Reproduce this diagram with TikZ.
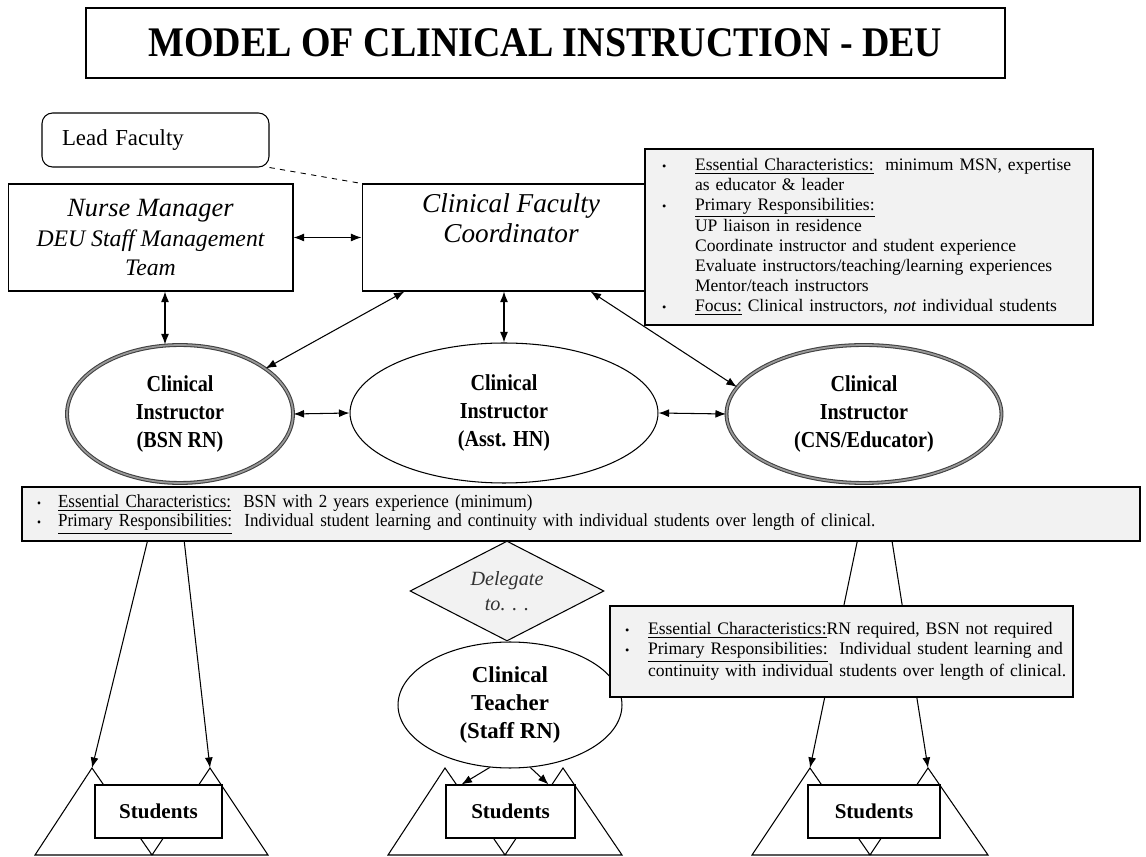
\documentclass[tikz,border=0pt]{standalone}
\usepackage{fontspec}
\setmainfont{Liberation Serif}
\newfontfamily\narrowserif{Liberation Serif}[FakeStretch=0.88]
\newfontfamily\bandserif{Liberation Serif}[FakeStretch=0.92]
\newfontfamily\titleserif{Liberation Serif}[FakeStretch=0.9]
\usetikzlibrary{arrows.meta,shapes.geometric}
\newcommand{\bul}{{\fontsize{7}{7}\selectfont\textbullet}}

\begin{document}
\begin{tikzpicture}[
  x=0.02cm, y=-0.02cm,
  >={Latex[length=6pt,width=4.5pt]},
  box/.style={draw, line width=0.6pt, align=center, inner sep=2pt},
  note/.style={draw, line width=0.9pt, fill=black!5, align=left, inner ysep=0pt, font=\fontsize{10}{11.4}\selectfont},
  ci/.style={ellipse, draw, line width=0.6pt, align=center, inner sep=0pt, font=\narrowserif\bfseries\fontsize{13}{16}\selectfont},
  ring/.style={ci, draw=black!75, line width=0.6pt, double=black!40, double distance=1pt},
  stud/.style={box, fill=white, minimum height=1.06cm, font=\bfseries\fontsize{12}{14}\selectfont},
  link/.style={<->, line width=0.6pt},
  down/.style={->, line width=0.6pt}
]
  \useasboundingbox (0,0) rectangle (1146,857);

  \node[draw, line width=0.9pt, minimum width=18.38cm, minimum height=1.4cm, font=\titleserif\bfseries\fontsize{24}{28}\selectfont] (title) at (545.5,43) {MODEL OF CLINICAL INSTRUCTION - DEU};

  \node[draw, rounded corners=6pt, line width=0.6pt, minimum height=1.08cm, text width=3.74cm, inner xsep=0.4cm, align=left, font=\fontsize{13}{15}\selectfont] (lead) at (155.5,140) {Lead Faculty};
  \node[box, minimum width=5.7cm, minimum height=2.14cm, font=\itshape\fontsize{15}{17}\selectfont] (nm) at (150.5,237.5) {Nurse Manager\\{\fontsize{13.5}{15}\selectfont DEU Staff Management}\\{\fontsize{13.5}{15}\selectfont Team}};
  \node[box, minimum width=5.96cm, minimum height=2.14cm, font=\itshape\fontsize{15.5}{17}\selectfont] (cfc) at (511,237.5) {Clinical Faculty\\Coordinator\\ \strut};
  \node[note, text width=8.28cm, inner xsep=0.34cm, minimum height=3.52cm] (cfcinfo) at (869,237) {%
    \begin{tabular}{@{}p{0.66cm}@{}l@{}}
    \bul & \underline{Essential Characteristics:}\ \ minimum MSN, expertise\\
         & as educator \& leader\\
    \bul & \underline{Primary Responsibilities:}\\
         & UP liaison in residence\\
         & Coordinate instructor and student experience\\
         & Evaluate instructors/teaching/learning experiences\\
         & Mentor/teach instructors\\
    \bul & \underline{Focus:} Clinical instructors, \textit{not} individual students
    \end{tabular}};

  \node[ring, minimum width=4.52cm, minimum height=2.76cm] (bsn) at (180,414) {Clinical\\Instructor\\(BSN RN)};
  \node[ci, minimum width=6.16cm, minimum height=2.8cm] (asst) at (504,413) {Clinical\\Instructor\\(Asst. HN)};
  \node[ring, minimum width=5.5cm, minimum height=2.76cm] (cns) at (864,414) {Clinical\\Instructor\\(CNS/Educator)};

  \draw[dashed, line width=0.5pt] (lead.south east) -- (cfc.north west);
  \draw[link] (nm.east) -- (cfc.west);
  \draw[link] ([xshift=0.29cm]nm.south) -- ([xshift=0.29cm]nm.south |- bsn.north);
  \draw[link] ([xshift=0.86cm]cfc.south west) -- (bsn.28);
  \draw[link] (asst.north |- cfc.south) -- (asst.north);
  \draw[link] ([xshift=-1.4cm]cfc.south east) -- (cns.168);
  \draw[link] (bsn.east) -- (asst.west);
  \draw[link] (asst.east) -- (cns.west);

  \node[note, text width=21.76cm, inner xsep=0.3cm, minimum height=1.08cm, font=\bandserif\fontsize{10.5}{11}\selectfont] (band) at (581,514) {%
    \begin{tabular}{@{}p{0.42cm}@{}l@{}}
    \bul & \underline{Essential Characteristics:}\ \ BSN with 2 years experience (minimum)\\
    \bul & \underline{Primary Responsibilities:}\ \ Individual student learning and continuity with individual students over length of clinical.
    \end{tabular}};

  \coordinate (tl1) at (92,768);  \coordinate (tl2) at (210,768);
  \coordinate (tm1) at (445,768); \coordinate (tm2) at (563,768);
  \coordinate (tr1) at (810,768); \coordinate (tr2) at (928,768);
  \draw[line width=0.6pt] (35,855) -- (tl1) -- (152,855) -- (tl2) -- (268,855) -- cycle;
  \draw[line width=0.6pt] (388,855) -- (tm1) -- (505,855) -- (tm2) -- (622,855) -- cycle;
  \draw[line width=0.6pt] (752,855) -- (tr1) -- (870,855) -- (tr2) -- (988,855) -- cycle;

  \draw[down] ([xshift=2.52cm]band.south west) -- (tl1);
  \draw[down] ([xshift=3.26cm]band.south west) -- (tl2);
  \draw[down] ([xshift=16.72cm]band.south west) -- (tr1);
  \draw[down] ([xshift=17.42cm]band.south west) -- (tr2);

  \node[diamond, draw, fill=black!5, line width=0.6pt, minimum width=3.88cm, minimum height=2cm, inner sep=0pt, aspect=2, align=center, text=black!80, font=\itshape\fontsize{11.5}{14}\selectfont] (deleg) at (507,591) {Delegate\\to. . .};
  \node[ci, minimum width=4.48cm, minimum height=2.52cm, font=\bfseries\fontsize{13}{16}\selectfont] (ct) at (510,705) {Clinical\\Teacher\\(Staff RN)};
  \node[note, text width=8.66cm, inner xsep=0.3cm, minimum height=1.82cm] (ctinfo) at (841.5,651.5) {%
    \begin{tabular}{@{}p{0.46cm}@{}l@{}}
    \bul & \underline{Essential Characteristics:}RN required, BSN not required\\
    \bul & \underline{Primary Responsibilities:}\ \ Individual student learning and\\
         & continuity with individual students over length of clinical.
    \end{tabular}};

  \node[stud, minimum width=2.54cm] (stl) at (158.5,811.5) {Students};
  \node[stud, minimum width=2.58cm] (stm) at (510.5,811.5) {Students};
  \node[stud, minimum width=2.64cm] (str) at (874,811.5) {Students};
  \draw[down] (ct.252) -- ([xshift=0.32cm]stm.north west);
  \draw[down] (ct.288) -- ([xshift=-0.54cm]stm.north east);
\end{tikzpicture}
\end{document}
